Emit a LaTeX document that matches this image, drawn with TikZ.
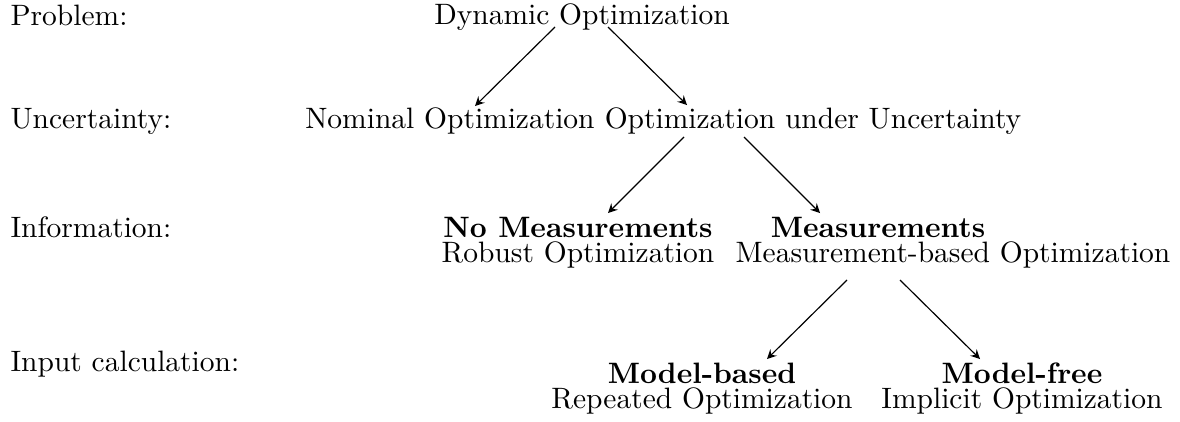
\documentclass[tikz,border=0pt]{standalone}
\usetikzlibrary{calc}
\begin{document}
\begin{tikzpicture}[x=0.339pt,y=-0.339pt,
  lvl/.style={anchor=base west,inner sep=0pt},
  txt/.style={anchor=base,inner sep=0pt},
  head/.style={anchor=base,inner sep=0pt,font=\bfseries},
  arr/.style={-stealth,line width=0.4pt}]
\useasboundingbox (0,0) rectangle (1180,421);

% level labels
\node[lvl] (lp) at (10,25) {Problem:};
\node[lvl] (lu) at (10,128) {Uncertainty:};
\node[lvl] (li) at (10,237) {Information:};
\node[lvl] (lc) at (10,371) {Input calculation:};

% tree nodes
\node[txt] (dyn) at (582,24) {Dynamic Optimization};
\node[txt] (nom) at (450,128) {Nominal Optimization};
\node[txt] (ouu) at (813,128) {Optimization under Uncertainty};

\node[head] (nomeas) at (578,237) {No Measurements};
\node[txt]  (robust) at (578,262) {Robust Optimization};
\node[head] (meas)   at (878,237) {Measurements};
\node[txt]  (mbo)    at (953,262) {Measurement-based Optimization};

\node[head] (modb) at (702,383) {Model-based};
\node[txt]  (rep)  at (702,408) {Repeated Optimization};
\node[head] (modf) at (1022,383) {Model-free};
\node[txt]  (impl) at (1022,408) {Implicit Optimization};

% connectors
\draw[arr] ($(dyn.base)+(-27,3)$) -- ($(nom.base)+(25,-22)$);
\draw[arr] ($(dyn.base)+(26,3)$) -- ($(ouu.base)+(-126,-23)$);
\draw[arr] ($(ouu.base)+(-129,9)$) -- ($(nomeas.base)+(30,-24)$);
\draw[arr] ($(ouu.base)+(-69,9)$) -- ($(meas.base)+(-58,-24)$);
\draw[arr] ($(mbo.base)+(-106,18)$) -- ($(modb.base)+(65,-24)$);
\draw[arr] ($(mbo.base)+(-53,18)$) -- ($(modf.base)+(-42,-24)$);
\end{tikzpicture}
\end{document}
